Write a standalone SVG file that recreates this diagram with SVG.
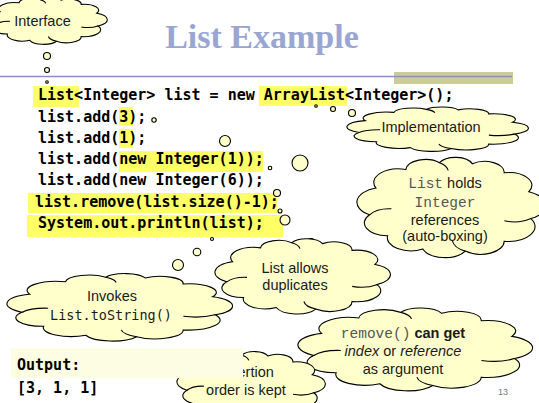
<svg xmlns="http://www.w3.org/2000/svg" width="539" height="403" viewBox="0 0 539 403">
<defs>
<style>
.hl{fill:#ffff66}
.code{font-family:"DejaVu Sans Mono","Liberation Mono",monospace;font-weight:bold;font-size:15px;fill:#000}
.t{font-family:"Liberation Sans",Arial,sans-serif;font-size:14.5px;fill:#1a1a1a;text-anchor:middle}
.cr{font-family:"Liberation Mono","Courier New",monospace;fill:#555}
.mono{font-family:"DejaVu Sans Mono","Liberation Mono",monospace;font-size:13.5px}
.bub{fill:#ffffcc;stroke:#000;stroke-width:1.1}
</style>
<symbol id="cloud" viewBox="0 0 100 100" preserveAspectRatio="none" overflow="visible">
<path fill="#ffffcc" stroke="#000" stroke-width="1.1" vector-effect="non-scaling-stroke" d="M6.7,57.5 A14.2 14.2 0 0 1 10.1,31.8 A13.1 13.1 0 0 1 26,13.9 A10.5 10.5 0 0 1 43.9,7.4 A9.6 9.6 0 0 1 61.4,8.5 A10.4 10.4 0 0 1 78.3,17.1 A12.3 12.3 0 0 1 91.4,35.3 A14.2 14.2 0 0 1 92.5,61.1 A14.3 14.3 0 0 1 78.3,82.9 A12.5 12.5 0 0 1 57.6,92.4 A12.5 12.5 0 0 1 35,90.4 A12.5 12.5 0 0 1 16.3,77.6 A12.3 12.3 0 0 1 6.7,57.5 Z"/>
<path fill="none" stroke="#000" stroke-width="1.1" vector-effect="non-scaling-stroke" d="M6.7,57.5 A12.3 12.3 0 0 1 18.3,51.7 M92.5,61.1 A14.2 14.2 0 0 1 78.4,63.3 M57.6,92.4 A12.5 12.5 0 0 1 50.8,82.7 M43.9,7.4 A10.5 10.5 0 0 1 48.5,14.9"/>
</symbol>
</defs>
<rect width="539" height="403" fill="#fff"/>

<g id="title">
<text x="262" y="48" font-family="'Liberation Serif','Times New Roman',serif" font-weight="bold" font-size="34" fill="#9aa6d2" text-anchor="middle">List Example</text>
<rect x="394" y="72" width="119" height="12" fill="#cccc99"/>
<line x1="0" y1="76.5" x2="512" y2="76.5" stroke="#8a8ec0" stroke-width="1.5"/>
</g>

<g id="code">
<rect class="hl" x="33" y="86" width="46" height="21"/>
<rect class="hl" x="259" y="86" width="88" height="20"/>
<rect class="hl" x="119" y="107" width="14" height="19"/>
<rect class="hl" x="119" y="129" width="14" height="19"/>
<rect class="hl" x="119" y="151" width="144" height="21"/>
<rect class="hl" x="28" y="193" width="249" height="20"/>
<rect class="hl" x="27" y="215" width="256" height="22"/>
<text class="code" x="38" y="100">List&lt;Integer&gt; list = new ArrayList&lt;Integer&gt;();</text>
<text class="code" x="38" y="122">list.add(3);</text>
<text class="code" x="38" y="143">list.add(1);</text>
<text class="code" x="38" y="164">list.add(new Integer(1));</text>
<text class="code" x="38" y="185">list.add(new Integer(6));</text>
<text class="code" x="35" y="207">list.remove(list.size()-1);</text>
<text class="code" x="38" y="228">System.out.println(list);</text>
</g>

<g id="connectors">
<circle class="bub" cx="47" cy="56" r="3.5"/>
<circle class="bub" cx="47" cy="70" r="2.5"/>
<circle class="bub" cx="47" cy="82" r="1.3"/>
<circle class="bub" cx="316" cy="106" r="1.3"/>
<circle class="bub" cx="333" cy="109" r="2.5"/>
<circle class="bub" cx="352" cy="113" r="3.5"/>
<circle class="bub" cx="154" cy="120" r="2.2"/>
<circle class="bub" cx="225" cy="141" r="5.5"/>
<circle class="bub" cx="300" cy="163" r="8"/>
<circle class="bub" cx="270" cy="168" r="1.8"/>
<circle class="bub" cx="277" cy="193" r="3.5"/>
<circle class="bub" cx="280" cy="211" r="2"/>
<circle class="bub" cx="285" cy="220" r="5"/>
<circle class="bub" cx="311" cy="243" r="4.5"/>
<circle class="bub" cx="212" cy="239" r="1.5"/>
<circle class="bub" cx="197" cy="252" r="3.8"/>
<circle class="bub" cx="178" cy="265" r="5.5"/>
</g>

<g id="interface">
<use href="#cloud" x="-12" y="-4" width="119" height="49"/>
<text class="t" x="42.5" y="26">Interface</text>
</g>

<g id="implementation">
<use href="#cloud" x="347" y="106" width="181" height="46"/>
<text class="t" x="431" y="132">Implementation</text>
</g>

<g id="list-holds">
<use href="#cloud" x="357" y="155" width="188" height="104"/>
<text class="t" x="445" y="188"><tspan class="cr">List</tspan> holds</text>
<text class="t cr" x="445" y="207">Integer</text>
<text class="t" x="445" y="225">references</text>
<text class="t" x="445" y="241">(auto-boxing)</text>
</g>

<g id="invokes">
<use href="#cloud" x="7" y="272" width="225" height="70"/>
<text class="t" x="112" y="301">Invokes</text>
<text class="t mono" x="111" y="320">List.toString()</text>
</g>

<g id="list-allows">
<use href="#cloud" x="215" y="237" width="175" height="78"/>
<text class="t" x="295" y="273">List allows</text>
<text class="t" x="295" y="290">duplicates</text>
</g>

<g id="remove">
<use href="#cloud" x="298" y="306" width="234" height="86"/>
<text class="t" x="403" y="338"><tspan class="cr">remove()</tspan> <tspan font-weight="bold">can get</tspan></text>
<text class="t" x="403" y="356"><tspan font-style="italic">index</tspan> or <tspan font-style="italic">reference</tspan></text>
<text class="t" x="403" y="374">as argument</text>
</g>

<g id="insertion">
<use href="#cloud" x="177" y="350" width="148" height="70"/>
<text class="t" x="246" y="377">Insertion</text>
<text class="t" x="246" y="395">order is kept</text>
</g>

<g id="output">
<rect x="11" y="348" width="232" height="30" fill="#fdfde3"/>
<text class="code" x="17" y="370" font-size="17">Output:</text>
<text class="code" x="17" y="393" font-size="17">[3, 1, 1]</text>
</g>

<text x="498" y="395" font-family="'Liberation Sans',Arial,sans-serif" font-size="9" fill="#777">13</text>
</svg>
